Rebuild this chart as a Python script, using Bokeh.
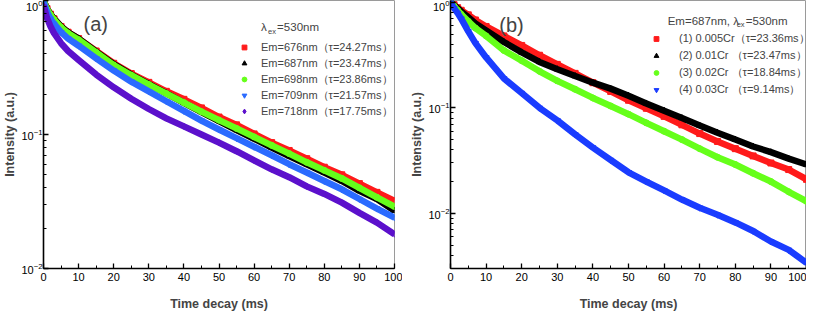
from bokeh.plotting import figure
from bokeh.models import Legend, LegendItem, Label, FixedTicker, SingleIntervalTicker
from bokeh.layouts import row
from bokeh.embed import file_html
from bokeh.resources import INLINE

# ---------------- data ----------------
t = [0, 1, 2, 3, 5, 7, 10, 15, 20, 25, 30, 35, 40, 45, 50, 55, 60, 65, 70, 75, 80, 85, 90, 95, 100]

# panel (a): lambda_ex = 530 nm, different emission wavelengths
a_676 = [1.0, 0.87, 0.79, 0.73, 0.64, 0.58, 0.52, 0.42, 0.34, 0.285, 0.245, 0.21, 0.183, 0.158, 0.135, 0.118, 0.101, 0.087, 0.076, 0.066, 0.057, 0.050, 0.043, 0.037, 0.032]
a_687 = [1.0, 0.87, 0.79, 0.73, 0.64, 0.58, 0.52, 0.415, 0.335, 0.28, 0.238, 0.203, 0.172, 0.147, 0.126, 0.108, 0.093, 0.080, 0.069, 0.060, 0.052, 0.045, 0.038, 0.033, 0.027]
a_698 = [1.0, 0.86, 0.78, 0.72, 0.63, 0.57, 0.51, 0.41, 0.33, 0.277, 0.236, 0.202, 0.173, 0.148, 0.128, 0.111, 0.096, 0.083, 0.072, 0.062, 0.054, 0.047, 0.040, 0.034, 0.029]
a_709 = [0.98, 0.82, 0.73, 0.67, 0.58, 0.52, 0.46, 0.37, 0.30, 0.248, 0.21, 0.177, 0.150, 0.127, 0.109, 0.094, 0.081, 0.070, 0.060, 0.052, 0.045, 0.039, 0.033, 0.028, 0.024]
a_718 = [0.92, 0.74, 0.64, 0.57, 0.48, 0.42, 0.36, 0.28, 0.225, 0.185, 0.155, 0.132, 0.115, 0.100, 0.087, 0.075, 0.064, 0.055, 0.048, 0.041, 0.036, 0.031, 0.026, 0.022, 0.018]
a_labels = ["Em=676nm（τ=24.27ms）", "Em=687nm（τ=23.47ms）", "Em=698nm（τ=23.86ms）",
            "Em=709nm（τ=21.57ms）", "Em=718nm（τ=17.75ms）"]

# panel (b): Em = 687 nm, different Cr contents
b_005 = [1.0, 0.95, 0.89, 0.84, 0.76, 0.68, 0.59, 0.48, 0.39, 0.315, 0.258, 0.212, 0.173, 0.143, 0.118, 0.099, 0.083, 0.069, 0.057, 0.048, 0.041, 0.035, 0.030, 0.026, 0.021]
b_01 = [1.0, 0.94, 0.88, 0.82, 0.72, 0.63, 0.54, 0.42, 0.335, 0.272, 0.232, 0.200, 0.173, 0.152, 0.130, 0.110, 0.094, 0.080, 0.068, 0.058, 0.050, 0.043, 0.038, 0.033, 0.029]
b_02 = [1.0, 0.92, 0.84, 0.77, 0.66, 0.57, 0.48, 0.35, 0.28, 0.222, 0.18, 0.150, 0.124, 0.104, 0.087, 0.072, 0.060, 0.050, 0.041, 0.034, 0.029, 0.024, 0.020, 0.016, 0.013]
b_03 = [1.0, 0.88, 0.79, 0.70, 0.53, 0.41, 0.30, 0.19, 0.138, 0.10, 0.076, 0.056, 0.042, 0.032, 0.0245, 0.020, 0.0165, 0.0135, 0.0113, 0.0097, 0.0082, 0.0068, 0.0054, 0.0045, 0.0034]
b_labels = ["(1) 0.005Cr（τ=23.36ms）", "(2) 0.01Cr （τ=23.47ms）",
            "(3) 0.02Cr （τ=18.84ms）", "(4) 0.03Cr （τ=9.14ms）"]

# axis ticks
y_major = [0.01, 0.1, 1.0]
y_minor_a = [0.02, 0.03, 0.04, 0.05, 0.06, 0.07, 0.08, 0.09, 0.2, 0.3, 0.4, 0.5, 0.6, 0.7, 0.8, 0.9]
y_minor_b = [0.003, 0.004, 0.005, 0.006, 0.007, 0.008, 0.009] + y_minor_a

FONT = "Liberation Sans"


def make_fig(width, left, right, yr, minor):
    p = figure(width=width, height=313, x_range=(0, 100), y_range=yr, y_axis_type="log",
               output_backend="svg", toolbar_location=None,
               min_border_left=left, min_border_right=right, min_border_top=0, min_border_bottom=40)
    p.grid.visible = False
    p.outline_line_color = "#9a9a9a"
    p.xaxis.ticker = SingleIntervalTicker(interval=10, num_minor_ticks=2)
    p.yaxis.ticker = FixedTicker(ticks=y_major, minor_ticks=minor)
    for ax in (p.xaxis[0], p.yaxis[0]):
        ax.axis_line_width = 1.6
        ax.axis_line_color = "black"
        ax.major_tick_in = 5
        ax.major_tick_out = 0
        ax.minor_tick_in = 3
        ax.minor_tick_out = 0
        ax.major_tick_line_width = 1.3
        ax.major_label_text_font = FONT
        ax.major_label_text_font_size = "11px"
        ax.major_label_text_color = "black"
        ax.axis_label_text_font = FONT
        ax.axis_label_text_font_style = "bold"
        ax.axis_label_text_font_size = "12.5px"
        ax.major_label_standoff = 1
        ax.axis_label_standoff = 1
    p.xaxis.axis_label = "Time decay (ms)"
    p.yaxis.axis_label = "Intensity (a.u.)"
    p.xaxis.major_label_standoff = 4
    p.xaxis.axis_label_standoff = 13
    return p


def add_series(p, ys, color, marker):
    p.line(t, ys, line_color=color, line_width=6.5, line_join="round")
    return p.scatter(t, ys, marker=marker, size=6, fill_color=color, line_color=color)


# ---------------- panel (a) ----------------
pa = make_fig(402, 8, 8, (0.01, 1.0), y_minor_a)
ra = [add_series(pa, a_676, "#ff1a1a", "square"),
      add_series(pa, a_687, "#000000", "triangle"),
      add_series(pa, a_698, "#66ff1a", "circle"),
      add_series(pa, a_709, "#2b6bff", "inverted_triangle"),
      add_series(pa, a_718, "#5c10cc", "diamond")]
lega = Legend(items=[LegendItem(label=l, renderers=[r]) for l, r in zip(a_labels, ra)],
              location=(195, 149), padding=0, margin=0, spacing=0,
              label_height=16, glyph_height=16, glyph_width=12, label_standoff=11,
              label_text_font=FONT, label_text_font_size="11px",
              border_line_alpha=0, background_fill_alpha=0)
pa.add_layout(lega)
pa.add_layout(Label(x=11.4, y=0.67, text="(a)", text_font=FONT, text_font_size="20px",
                    text_baseline="middle"))
pa.add_layout(Label(x=62, y=0.63, text="λ", text_font=FONT, text_font_size="11.5px", text_baseline="middle"))
pa.add_layout(Label(x=62, y=0.63, x_offset=7, y_offset=-4, text="ex", text_font=FONT,
                    text_font_size="7.5px", text_baseline="middle"))
pa.add_layout(Label(x=62, y=0.63, x_offset=16, text="=530nm", text_font=FONT,
                    text_font_size="11.5px", text_baseline="middle"))

# ---------------- panel (b) ----------------
pb = make_fig(404, 48, 0, (0.003, 1.04), y_minor_b)
rb = [add_series(pb, b_005, "#ff1a1a", "square"),
      add_series(pb, b_01, "#000000", "triangle"),
      add_series(pb, b_02, "#66ff1a", "circle"),
      add_series(pb, b_03, "#1a3cff", "inverted_triangle")]
legb = Legend(items=[LegendItem(label=l, renderers=[r]) for l, r in zip(b_labels, rb)],
              location=(200, 170), padding=0, margin=0, spacing=0,
              label_height=17, glyph_height=17, glyph_width=12, label_standoff=17,
              label_text_font=FONT, label_text_font_size="11px",
              border_line_alpha=0, background_fill_alpha=0)
pb.add_layout(legb)
pb.add_layout(Label(x=13.7, y=0.61, text="(b)", text_font=FONT, text_font_size="20px",
                    text_baseline="middle"))
pb.add_layout(Label(x=61, y=0.67, text="Em=687nm, λ", text_font=FONT, text_font_size="11.5px",
                    text_baseline="middle"))
pb.add_layout(Label(x=61, y=0.67, x_offset=69, y_offset=-4, text="ex", text_font=FONT,
                    text_font_size="7.5px", text_baseline="middle"))
pb.add_layout(Label(x=61, y=0.67, x_offset=78, text="=530nm", text_font=FONT,
                    text_font_size="11.5px", text_baseline="middle"))

layout = row(pa, pb)
open("out.html", "w").write(file_html(layout, INLINE))
